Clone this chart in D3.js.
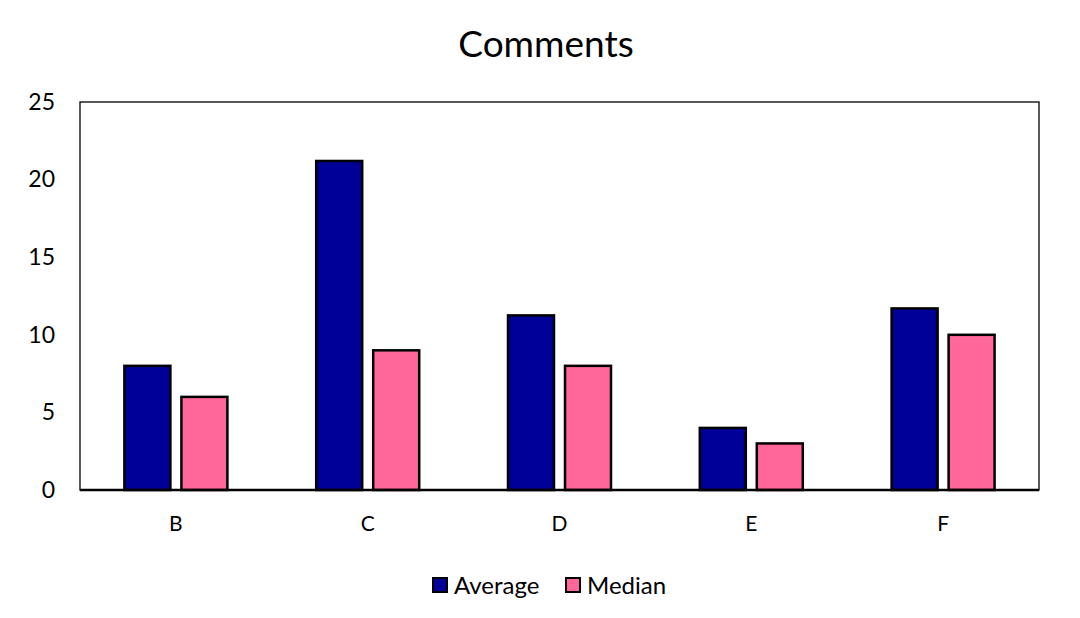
<!DOCTYPE html>
<html><head><meta charset="utf-8">
<script src="https://cdn.jsdelivr.net/npm/d3@7"></script>
<style>body{margin:0;background:#fff;} svg{display:block;font-family:Lato,"Open Sans",sans-serif;}</style>
</head><body>
<svg id="c" width="1080" height="618"></svg>
<script>
const categories = ["B","C","D","E","F"];
const seriesNames = ["Average","Median"];
const averageValues = [8, 21.2, 11.25, 4, 11.7];
const medianValues = [6, 9, 8, 3, 10];
const yTicks = [0,5,10,15,20,25];
const colors = ["#000099","#FF6699"];

const svg = d3.select("#c");
const m = {l:80, r:1039, t:102, b:490};
const x = d3.scaleBand().domain(categories).range([m.l, m.r]).paddingInner(0).paddingOuter(0);
const y = d3.scaleLinear().domain([0,25]).range([m.b, m.t]);
const barW = 46, gap = 11;

svg.append("text").attr("x",546).attr("y",57).attr("text-anchor","middle")
  .attr("font-size",37).attr("fill","#000").text("Comments");

// frame
svg.append("rect").attr("x",m.l).attr("y",m.t).attr("width",m.r-m.l).attr("height",m.b-m.t)
  .attr("fill","none").attr("stroke","#000").attr("stroke-width",1.3);

const yAxis = d3.axisLeft(y).tickValues(yTicks).tickSize(0).tickPadding(25);
const gy = svg.append("g").attr("transform",`translate(${m.l},0)`).call(yAxis);
gy.select(".domain").remove();
gy.selectAll("text").attr("font-size",23).attr("fill","#000").attr("font-family","Lato,sans-serif");

const xAxis = d3.axisBottom(x).tickSize(0).tickPadding(26);
const gx = svg.append("g").attr("transform",`translate(0,${m.b})`).call(xAxis);
gx.select(".domain").remove();
gx.selectAll("text").attr("font-size",21).attr("fill","#000").attr("font-family","Lato,sans-serif");

const data = [averageValues, medianValues];
data.forEach((vals, si) => {
  svg.append("g").selectAll("rect").data(categories).join("rect")
    .attr("x", (d) => x(d) + x.bandwidth()/2 + (si===0 ? -(barW + gap/2) : gap/2))
    .attr("y", (d,i) => y(vals[i]))
    .attr("width", barW)
    .attr("height", (d,i) => y(0) - y(vals[i]))
    .attr("fill", colors[si]).attr("stroke","#000").attr("stroke-width",2.5);
});

// baseline
svg.append("line").attr("x1",m.l).attr("x2",m.r).attr("y1",y(0)).attr("y2",y(0))
  .attr("stroke","#000").attr("stroke-width",2.5);

// legend
const lg = svg.append("g");
const legendX = [433, 566];
seriesNames.forEach((n,i) => {
  lg.append("rect").attr("x",legendX[i]).attr("y",578).attr("width",14).attr("height",14)
    .attr("fill",colors[i]).attr("stroke","#000").attr("stroke-width",2);
  lg.append("text").attr("x",legendX[i]+21).attr("y",594).attr("font-size",24).attr("fill","#000").text(n);
});
</script>
</body></html>
